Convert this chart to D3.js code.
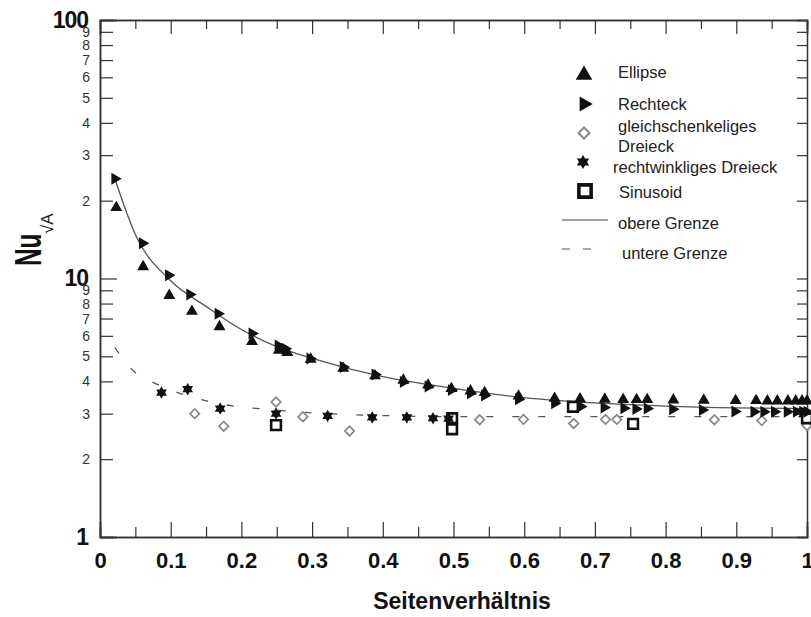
<!DOCTYPE html>
<html>
<head>
<meta charset="utf-8">
<script src="https://cdn.jsdelivr.net/npm/d3@7"></script>
<style>
  body { margin: 0; background: #fff; }
  svg { display: block; font-family: "Liberation Sans", Arial, sans-serif; }
</style>
</head>
<body>
<div id="chart"></div>
<script>
// data
var ellipseX = [0.023, 0.061, 0.098, 0.130, 0.169, 0.215, 0.253, 0.265, 0.298, 0.344, 0.389, 0.429, 0.464, 0.497, 0.524, 0.544, 0.592, 0.643, 0.679, 0.714, 0.740, 0.759, 0.774, 0.811, 0.854, 0.899, 0.928, 0.944, 0.958, 0.973, 0.984, 0.993, 1.0];
var ellipseY = [18.8, 11.1, 8.6, 7.46, 6.51, 5.70, 5.27, 5.17, 4.87, 4.49, 4.20, 4.04, 3.87, 3.75, 3.67, 3.62, 3.51, 3.44, 3.42, 3.41, 3.40, 3.40, 3.40, 3.39, 3.38, 3.37, 3.37, 3.36, 3.36, 3.36, 3.36, 3.36, 3.36];

var rechteckX = [0.021, 0.060, 0.097, 0.127, 0.167, 0.215, 0.252, 0.262, 0.297, 0.344, 0.389, 0.429, 0.464, 0.497, 0.524, 0.544, 0.592, 0.643, 0.680, 0.713, 0.741, 0.758, 0.774, 0.810, 0.852, 0.898, 0.925, 0.939, 0.954, 0.972, 0.985, 0.994, 1.0];
var rechteckY = [24.3, 13.7, 10.3, 8.67, 7.31, 6.13, 5.51, 5.35, 4.90, 4.55, 4.25, 3.98, 3.82, 3.70, 3.60, 3.53, 3.41, 3.29, 3.20, 3.17, 3.15, 3.13, 3.14, 3.12, 3.10, 3.06, 3.05, 3.05, 3.05, 3.05, 3.05, 3.05, 3.05];

var gleichX = [0.134, 0.175, 0.249, 0.287, 0.353, 0.537, 0.599, 0.670, 0.715, 0.731, 0.869, 0.936, 1.0];
var gleichY = [3.0, 2.68, 3.33, 2.92, 2.57, 2.84, 2.85, 2.75, 2.85, 2.85, 2.84, 2.82, 2.70];

var rechtwX = [0.087, 0.124, 0.170, 0.249, 0.322, 0.385, 0.434, 0.471, 0.493];
var rechtwY = [3.62, 3.73, 3.14, 3.0, 2.94, 2.90, 2.90, 2.88, 2.87];

var sinusX = [0.249, 0.498, 0.498, 0.669, 0.754, 1.0];
var sinusY = [2.71, 2.88, 2.61, 3.19, 2.74, 2.88];

var obereX = [0.021, 0.05, 0.1, 0.15, 0.2, 0.25, 0.3, 0.4, 0.5, 0.6, 0.7, 0.8, 0.9, 1.0];
var obereY = [24.3, 14.8, 9.8, 7.8, 6.35, 5.45, 4.91, 4.17, 3.76, 3.46, 3.30, 3.21, 3.16, 3.14];

var untereX = [0.021, 0.045, 0.078, 0.116, 0.151, 0.189, 0.224, 0.3, 0.4, 0.5, 0.7, 1.0];
var untereY = [5.4, 4.45, 3.93, 3.57, 3.36, 3.21, 3.14, 3.02, 2.95, 2.92, 2.92, 2.92];

var xMajor = [0, 0.1, 0.2, 0.3, 0.4, 0.5, 0.6, 0.7, 0.8, 0.9, 1];
var xTickLabels = ["0", "0.1", "0.2", "0.3", "0.4", "0.5", "0.6", "0.7", "0.8", "0.9", "1"];
var xMinor = [0.05, 0.15, 0.25, 0.35, 0.45, 0.55, 0.65, 0.75, 0.85, 0.95];
var yMajor = [1, 10, 100];
var yMinor = [2, 3, 4, 5, 6, 7, 8, 9, 20, 30, 40, 50, 60, 70, 80, 90];

var legendNames = ["Ellipse", "Rechteck", "gleichschenkeliges|Dreieck", "rechtwinkliges Dreieck", "Sinusoid", "obere Grenze", "untere Grenze"];

var width = 811, height = 617;
var x = d3.scaleLinear().domain([0, 1]).range([100, 807]);
var y = d3.scaleLog().domain([1, 100]).range([537, 20]);

var svg = d3.select("#chart").append("svg")
  .attr("width", width)
  .attr("height", height);

// six pointed star
var hexagram = {
  draw: function (ctx, size) {
    var r = Math.sqrt(size) * 0.62, ri = r / Math.sqrt(3);
    for (var i = 0; i < 12; i++) {
      var a = -Math.PI / 2 + i * Math.PI / 6;
      var rr = i % 2 ? ri : r;
      if (i == 0) ctx.moveTo(rr * Math.cos(a), rr * Math.sin(a));
      else ctx.lineTo(rr * Math.cos(a), rr * Math.sin(a));
    }
    ctx.closePath();
  }
};

/* ------- AXES -------*/
var axisColor = "#333";

var bottom = svg.append("g").attr("transform", "translate(0,537)")
  .call(d3.axisBottom(x).tickValues(xMajor).tickSize(-15).tickPadding(15)
    .tickFormat(function (d, i) { return xTickLabels[i]; }));
bottom.selectAll("text").style("font-size", "22px").style("font-weight", "bold").attr("fill", "#111");
svg.append("g").attr("transform", "translate(0,537)")
  .call(d3.axisBottom(x).tickValues(xMinor).tickSize(-10).tickFormat(""));

svg.append("g").attr("transform", "translate(0,20)")
  .call(d3.axisTop(x).tickValues(xMajor).tickSize(-14).tickFormat(""));
svg.append("g").attr("transform", "translate(0,20)")
  .call(d3.axisTop(x).tickValues(xMinor).tickSize(-9).tickFormat(""));

var left = svg.append("g").attr("transform", "translate(100,0)")
  .call(d3.axisLeft(y).tickValues(yMinor).tickSize(-13).tickPadding(10)
    .tickFormat(function (d) { return String(d >= 10 ? d / 10 : d); }));
left.selectAll("text").style("font-size", "14px").attr("fill", "#333");

var leftMajor = svg.append("g").attr("transform", "translate(100,0)")
  .call(d3.axisLeft(y).tickValues(yMajor).tickSize(-17).tickPadding(12)
    .tickFormat(function (d) { return String(d); }));
leftMajor.selectAll("text").style("font-size", "23px").style("font-weight", "bold").attr("fill", "#111")
  .style("letter-spacing", "-1px");

svg.append("g").attr("transform", "translate(807,0)")
  .call(d3.axisRight(y).tickValues(yMinor.concat(yMajor)).tickSize(-10).tickFormat(""));

svg.selectAll(".domain").attr("stroke", axisColor).attr("stroke-width", 1.5);
svg.selectAll(".tick line").attr("stroke", axisColor).attr("stroke-width", 1.2);

/* ------- CURVES -------*/
var line = d3.line()
  .x(function (d) { return x(d[0]); })
  .y(function (d) { return y(d[1]); })
  .curve(d3.curveMonotoneX);

svg.append("path")
  .attr("d", line(d3.zip(obereX, obereY)))
  .attr("fill", "none").attr("stroke", "#555").attr("stroke-width", 1.3);

svg.append("path")
  .attr("d", line(d3.zip(untereX, untereY)))
  .attr("fill", "none").attr("stroke", "#555").attr("stroke-width", 1.3)
  .attr("stroke-dasharray", "7,19");

/* ------- MARKERS -------*/
function drawMarkers(xs, ys, type, size, rot, fill, stroke, sw) {
  svg.append("g").selectAll("path")
    .data(d3.zip(xs, ys))
    .enter().append("path")
    .attr("d", d3.symbol().type(type).size(size))
    .attr("transform", function (d) { return "translate(" + x(d[0]) + "," + y(d[1]) + ") rotate(" + rot + ")"; })
    .attr("fill", fill)
    .attr("stroke", stroke)
    .attr("stroke-width", sw);
}

drawMarkers(gleichX, gleichY, d3.symbolSquare, 45, 45, "#fff", "#888", 1.7);
drawMarkers(sinusX, sinusY, d3.symbolSquare, 95, 0, "#fff", "#111", 2.6);
drawMarkers(rechtwX, rechtwY, hexagram, 100, 0, "#111", "none", 0);
drawMarkers(ellipseX, ellipseY, d3.symbolTriangle, 62, 0, "#111", "none", 0);
drawMarkers(rechteckX, rechteckY, d3.symbolTriangle, 62, 90, "#111", "none", 0);

/* ------- LEGEND -------*/
var lg = svg.append("g").attr("fill", "#222").style("font-size", "16.5px");
function legendText(tx, ty, s) {
  lg.append("text").attr("x", tx).attr("y", ty).attr("dy", "0.35em").text(s);
}
function legendMark(mx, my, type, size, rot, fill, stroke, sw) {
  lg.append("path")
    .attr("d", d3.symbol().type(type).size(size))
    .attr("transform", "translate(" + mx + "," + my + ") rotate(" + rot + ")")
    .attr("fill", fill).attr("stroke", stroke).attr("stroke-width", sw);
}

legendMark(584, 75, d3.symbolTriangle, 120, 0, "#111", "none", 0);
legendText(618, 72, legendNames[0]);
legendMark(584, 104, d3.symbolTriangle, 100, 90, "#111", "none", 0);
legendText(618, 104, legendNames[1]);
legendMark(584, 133, d3.symbolSquare, 60, 45, "#fff", "#888", 2);
legendText(618, 126, legendNames[2].split("|")[0]);
legendText(618, 146, legendNames[2].split("|")[1]);
legendMark(583, 162, hexagram, 130, 0, "#111", "none", 0);
legendText(613, 167, legendNames[3]);
legendMark(585, 191, d3.symbolSquare, 150, 0, "#fff", "#111", 3.6);
legendText(619, 192, legendNames[4]);
lg.append("line").attr("x1", 562).attr("x2", 608).attr("y1", 220).attr("y2", 220)
  .attr("stroke", "#444").attr("stroke-width", 1.2);
legendText(618, 223, legendNames[5]);
lg.append("line").attr("x1", 562).attr("x2", 596).attr("y1", 249).attr("y2", 249)
  .attr("stroke", "#555").attr("stroke-width", 1.2).attr("stroke-dasharray", "8,13");
legendText(622, 253, legendNames[6]);

/* ------- TITLES -------*/
svg.append("text")
  .attr("x", 462).attr("y", 609)
  .attr("text-anchor", "middle")
  .style("font-size", "23px").style("font-weight", "bold")
  .attr("fill", "#111")
  .text("Seitenverhältnis");

svg.append("text")
  .attr("transform", "translate(41,266) rotate(-90) scale(0.66,1)")
  .style("font-size", "37px").style("font-weight", "bold")
  .attr("fill", "#111")
  .text("Nu");

svg.append("text")
  .attr("transform", "translate(53,234) rotate(-90)")
  .style("font-size", "17px")
  .attr("fill", "#222")
  .text("√A");
</script>
</body>
</html>
